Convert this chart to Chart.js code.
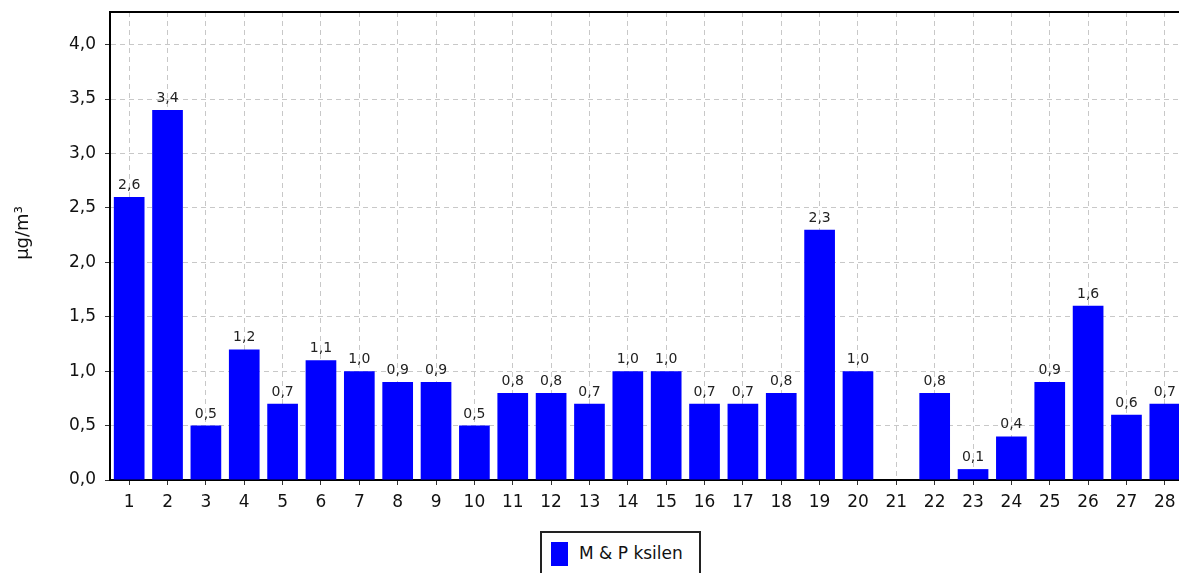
<!DOCTYPE html>
<html>
<head>
<meta charset="utf-8">
<script src="https://cdn.jsdelivr.net/npm/chart.js@4"></script>
<style>
  html, body { margin: 0; padding: 0; background: #fff; overflow: hidden; width: 1179px; height: 573px; }
  #wrap { position: absolute; left: 0; top: 0; width: 1184px; height: 573px; }
  #legend { position: absolute; left: 540px; top: 531px; width: 157px; height: 60px; border: 2px solid #222; background: #fff;
            font-family: "DejaVu Sans", Verdana, sans-serif; font-size: 17px; color: #111; }
  #legend .sw { position: absolute; left: 9px; top: 9px; width: 17px; height: 24px; background: #0000ff; }
  #legend .tx { position: absolute; left: 37px; top: 10px; white-space: nowrap; }
</style>
</head>
<body>
<div id="wrap"><canvas id="c" width="1184" height="573"></canvas></div>
<div id="legend"><span class="sw"></span><span class="tx">M &amp; P ksilen</span></div>
<script>
const categories = ["1","2","3","4","5","6","7","8","9","10","11","12","13","14","15","16","17","18","19","20","21","22","23","24","25","26","27","28"];
const seriesName = "M & P ksilen";
const values = [2.6,3.4,0.5,1.2,0.7,1.1,1.0,0.9,0.9,0.5,0.8,0.8,0.7,1.0,1.0,0.7,0.7,0.8,2.3,1.0,0,0.8,0.1,0.4,0.9,1.6,0.6,0.7];
const yTitle = "µg/m³";
const yMin = 0, yMax = 4.3, yStep = 0.5;

const fmt = v => Number(v).toFixed(1).replace('.', ',');
const FONT = '"DejaVu Sans", Verdana, sans-serif';

const extras = {
  id: 'extras',
  afterDatasetsDraw(chart) {
    const ctx = chart.ctx;
    const meta = chart.getDatasetMeta(0);
    ctx.save();
    ctx.font = '14px ' + FONT;
    ctx.fillStyle = '#222';
    ctx.textAlign = 'center';
    ctx.textBaseline = 'alphabetic';
    meta.data.forEach((bar, i) => {
      const v = values[i];
      if (!v) return;
      ctx.fillText(fmt(v), bar.x, bar.y - 8);
    });
    ctx.restore();
  },
  afterDraw(chart) {
    const ctx = chart.ctx;
    const a = chart.chartArea;
    ctx.save();
    ctx.strokeStyle = '#000';
    ctx.lineWidth = 2;
    ctx.beginPath();
    ctx.moveTo(a.left - 1, a.top);
    ctx.lineTo(a.right, a.top);
    ctx.stroke();
    ctx.translate(23, 233);
    ctx.rotate(-Math.PI / 2);
    ctx.font = '18px ' + FONT;
    ctx.fillStyle = '#111';
    ctx.textAlign = 'center';
    ctx.textBaseline = 'middle';
    ctx.fillText(yTitle, 0, 0);
    ctx.restore();
  }
};

new Chart(document.getElementById('c'), {
  type: 'bar',
  data: {
    labels: categories,
    datasets: [{
      label: seriesName,
      data: values,
      backgroundColor: '#0000ff',
      borderWidth: 0,
      barPercentage: 0.8,
      categoryPercentage: 1.0
    }]
  },
  options: {
    responsive: false,
    animation: false,
    devicePixelRatio: 1,
    layout: { padding: { top: 12, left: 0, right: 0, bottom: 0 } },
    plugins: { legend: { display: false }, tooltip: { enabled: false } },
    scales: {
      x: {
        offset: true,
        grid: { offset: false, color: '#c8c8c8', tickColor: '#333', tickBorderDash: [], tickLength: 5, lineWidth: 1 },
        border: { color: '#000', width: 2, dash: [5, 4] },
        ticks: { color: '#111', font: { family: FONT, size: 17 }, padding: 7, maxRotation: 0, autoSkip: false },
        afterFit(s) { s.height = 93; s.paddingLeft = 0; s.paddingRight = 0; }
      },
      y: {
        min: yMin, max: yMax,
        grid: { color: '#c8c8c8', tickColor: '#333', tickBorderDash: [], tickLength: 5, lineWidth: 1 },
        border: { color: '#000', width: 2, dash: [5, 4] },
        ticks: { stepSize: yStep, color: '#111', font: { family: FONT, size: 17 }, padding: 9, callback: v => fmt(v) },
        afterBuildTicks(s) { s.ticks = s.ticks.filter(t => Math.abs(t.value / yStep - Math.round(t.value / yStep)) < 1e-6); },
        afterFit(s) { s.width = 110; s.paddingTop = 0; s.paddingBottom = 0; }
      }
    }
  },
  plugins: [extras]
});
</script>
</body>
</html>
